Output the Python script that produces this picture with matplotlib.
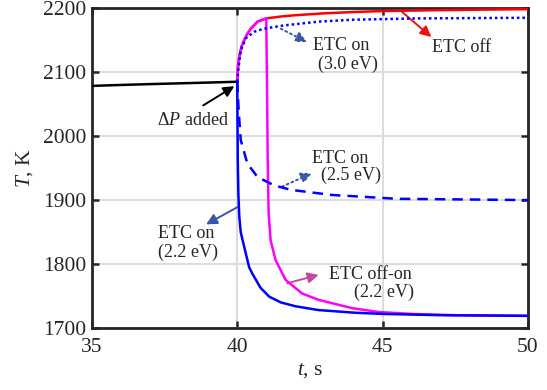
import matplotlib
matplotlib.use("Agg")
import matplotlib.pyplot as plt

plt.rcParams['font.family'] = ['Liberation Serif', 'DejaVu Serif']
plt.rcParams['mathtext.fontset'] = 'custom'
plt.rcParams['mathtext.rm'] = 'Liberation Serif'
plt.rcParams['mathtext.it'] = 'Liberation Serif:italic'

# Temperature histories, t in s, T in K
t_base = [35.0, 36.0, 37.0, 38.0, 39.0, 40.0]
T_base = [2078.5, 2080.0, 2081.3, 2082.5, 2083.7, 2085.0]

t_off = [40.0, 40.03, 40.07, 40.15, 40.24, 40.35, 40.47, 40.7, 41.0, 41.5,
         42.0, 43.0, 44.0, 45.0, 47.0, 50.0]
T_off = [2085, 2110, 2124, 2140, 2150, 2160, 2168, 2179, 2184, 2187,
         2189, 2192, 2194, 2195.5, 2197, 2198.5]

t_on30 = [40.0, 40.04, 40.12, 40.3, 40.58, 40.92, 41.6, 42.8, 44.0, 46.2, 50.0]
T_on30 = [2085, 2105, 2134, 2153, 2163, 2168, 2173, 2179, 2182, 2184, 2185]

t_on25 = [40.0, 40.05, 40.12, 40.35, 40.7, 41.27, 41.84, 43.25, 45.5, 50.0]
T_on25 = [2085, 2040, 1994, 1957, 1936, 1923, 1916, 1908, 1902, 1900]

t_on22 = [40.0, 40.02, 40.04, 40.07, 40.12, 40.24, 40.41, 40.52, 40.8, 41.1,
          41.5, 42.0, 42.8, 44.0, 45.0, 47.0, 50.0]
T_on22 = [2085, 1960, 1910, 1875, 1850, 1827, 1795, 1785, 1763, 1749,
          1740, 1734, 1728, 1724, 1722, 1720, 1719]

t_offon = [40.0, 40.03, 40.07, 40.15, 40.24, 40.35, 40.47, 40.7, 41.0,
           41.02, 41.05, 41.08, 41.15, 41.32, 41.67, 42.23, 42.8, 43.95,
           44.86, 46.0, 47.5, 50.0]
T_offon = [2085, 2110, 2124, 2140, 2150, 2160, 2168, 2179, 2184,
           2100, 1960, 1880, 1837, 1806, 1775, 1754, 1744, 1731,
           1725, 1722, 1720, 1719]

x_ticks = [35, 40, 45, 50]
y_ticks = [1700, 1800, 1900, 2000, 2100, 2200]

fig = plt.figure(figsize=(5.47, 3.90), dpi=100)
ax = fig.add_axes([0.168, 0.159, 0.797, 0.820])

lw = 1.8
ax.plot(t_base, T_base, color='black', lw=lw, zorder=3)
ax.plot(t_off, T_off, color='#ff0000', lw=lw, zorder=3)
ax.plot(t_offon, T_offon, color='#ff00ff', lw=lw, zorder=4)
ax.plot(t_on22, T_on22, color='#0000ff', lw=lw, zorder=5)
ax.plot(t_on25, T_on25, color='#0000ff', lw=lw, ls=(0, (4.2, 2.8)), zorder=5)
ax.plot(t_on30, T_on30, color='#0000ff', lw=lw, ls=(0, (1, 1.2)), zorder=6)

ax.set_xlim(35, 50)
ax.set_ylim(1700, 2200)
ax.set_xticks(x_ticks)
ax.set_yticks(y_ticks)
ax.grid(True, color='#dcdcdc', lw=1.4)
ax.set_axisbelow(True)
ax.tick_params(direction='in', length=5, width=1.8, top=True, right=True,
               labelsize=15.5, colors='#262626', labelcolor='#262626', pad=4)
ax.tick_params(axis='x', pad=7)
for s in ax.spines.values():
    s.set_linewidth(2.0)
    s.set_color('#262626')

ax.set_xlabel(r'$t$, s', fontsize=15.5, color='#262626', labelpad=3)
ax.set_ylabel(r'$T$, K', fontsize=15.5, color='#262626', labelpad=6)

tc = '#262626'
fs = 13
steel = '#3a56a8'

ax.annotate('', xy=(46.68, 2155), xytext=(45.6, 2197),
            arrowprops=dict(arrowstyle='-|>', color='#ee1111', lw=1.4,
                            mutation_scale=16, shrinkA=0, shrinkB=0))
ax.text(47.73, 2139, 'ETC off', fontsize=fs, color=tc, ha='center', va='center')

ax.annotate('', xy=(42.4, 2147), xytext=(41.5, 2168),
            arrowprops=dict(arrowstyle='-|>', color=steel, lw=1.4, ls=':',
                            mutation_scale=16, shrinkA=0, shrinkB=0))
ax.text(43.57, 2141, 'ETC on', fontsize=fs, color=tc, ha='center', va='center')
ax.text(43.8, 2112, '(3.0 eV)', fontsize=fs, color=tc, ha='center', va='center')

ax.annotate('', xy=(39.9, 2078), xytext=(38.83, 2048),
            arrowprops=dict(arrowstyle='-|>', color='black', lw=1.4,
                            mutation_scale=16, shrinkA=0, shrinkB=0))
ax.text(38.46, 2024, r'$\Delta P$ added', fontsize=fs, color=tc,
        ha='center', va='center')

ax.annotate('', xy=(42.57, 1942), xytext=(41.54, 1921),
            arrowprops=dict(arrowstyle='-|>', color=steel, lw=1.4, ls=':',
                            mutation_scale=16, shrinkA=0, shrinkB=0))
ax.text(43.53, 1965, 'ETC on', fontsize=fs, color=tc, ha='center', va='center')
ax.text(43.9, 1938, '(2.5 eV)', fontsize=fs, color=tc, ha='center', va='center')

ax.annotate('', xy=(38.93, 1862), xytext=(40.01, 1889),
            arrowprops=dict(arrowstyle='-|>', color=steel, lw=1.4,
                            mutation_scale=16, shrinkA=0, shrinkB=0))
ax.text(38.24, 1847, 'ETC on', fontsize=fs, color=tc, ha='center', va='center')
ax.text(38.3, 1818, '(2.2 eV)', fontsize=fs, color=tc, ha='center', va='center')

ax.annotate('', xy=(42.8, 1783), xytext=(41.72, 1770),
            arrowprops=dict(arrowstyle='-|>', color='#c04aa0', lw=1.4,
                            mutation_scale=16, shrinkA=0, shrinkB=0))
ax.text(46.0, 1784, 'ETC off-on', fontsize=fs, color=tc, ha='right', va='center')
ax.text(46.08, 1755, '(2.2 eV)', fontsize=fs, color=tc, ha='right', va='center')

fig.savefig('out.png', dpi=100)
